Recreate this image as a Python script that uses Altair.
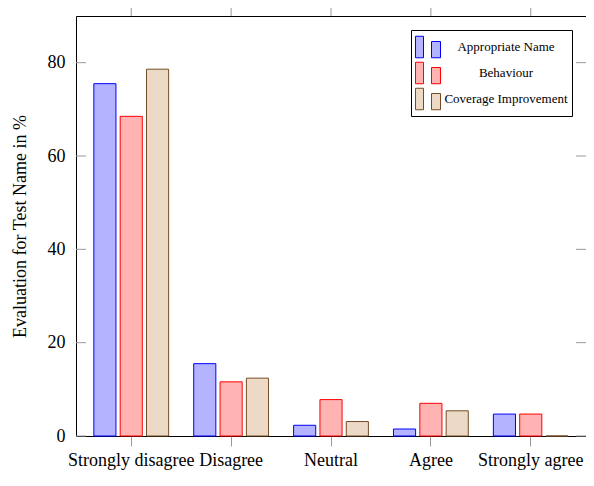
import altair as alt
import pandas as pd

categories = ["Strongly disagree", "Disagree", "Neutral", "Agree", "Strongly agree"]
series = ["Appropriate Name", "Behaviour", "Coverage Improvement"]
appropriate_name = [75.5, 15.5, 2.3, 1.5, 4.7]
behaviour = [68.5, 11.6, 7.8, 7.0, 4.7]
coverage_improvement = [78.6, 12.4, 3.1, 5.4, 0.0]
y_ticks = [0, 20, 40, 60, 80]

fills = ["#b3b3ff", "#ffb3b3", "#ecd9c6"]
strokes = ["#0000ff", "#ff0000", "#734d26"]

rows = []
for s, vals in zip(series, [appropriate_name, behaviour, coverage_improvement]):
    for c, v in zip(categories, vals):
        rows.append({"category": c, "series": s, "value": v})
df = pd.DataFrame(rows)
tick_df = pd.DataFrame({"value": y_ticks})
cat_df = pd.DataFrame({"category": categories})

FONT = "Liberation Serif"
TICK = "#999999"
ICON = "M-1,-0.86H-0.36V0.86H-1Z M0.28,-0.44H1V0.86H0.28Z"
W, H = 510, 420

yscale = alt.Scale(domain=[0, 90], nice=False)
xscale = alt.Scale(domain=categories, paddingInner=0.23, paddingOuter=0.168)

x_axis = alt.Axis(title=None, labelAngle=0, domain=False, ticks=True, tickSize=10,
                  tickColor=TICK, labelPadding=5, labelFontSize=18)
y_axis = alt.Axis(values=y_ticks, title="Evaluation for Test Name in %", ticks=False,
                  domain=False, grid=False, labelPadding=11, titlePadding=18)

legend = alt.Legend(
    title=None, orient="top-right", offset=14, symbolType=ICON, symbolSize=625,
    symbolStrokeWidth=1, symbolOpacity=1, labelFont=FONT, labelFontSize=13,
    labelColor="black", labelAlign="center", labelOffset=65, padding=4,
    rowPadding=0, strokeColor="black", fillColor="white",
)

bars = alt.Chart(df).mark_bar(strokeWidth=1).encode(
    x=alt.X("category:N", sort=categories, scale=xscale, axis=x_axis),
    xOffset=alt.XOffset("series:N", sort=series,
                        scale=alt.Scale(paddingInner=0.16, paddingOuter=0.04)),
    y=alt.Y("value:Q", scale=yscale, axis=y_axis),
    fill=alt.Fill("series:N", sort=series, scale=alt.Scale(domain=series, range=fills), legend=legend),
    stroke=alt.Stroke("series:N", sort=series, scale=alt.Scale(domain=series, range=strokes), legend=legend),
)

left_ticks = alt.Chart(tick_df).mark_rule(color=TICK, strokeWidth=1).encode(
    y=alt.Y("value:Q", scale=yscale, axis=y_axis), x=alt.value(0), x2=alt.value(10))
right_ticks = alt.Chart(tick_df).mark_rule(color=TICK, strokeWidth=1).encode(
    y=alt.Y("value:Q", scale=yscale, axis=y_axis), x=alt.value(W - 10), x2=alt.value(W))
top_ticks = alt.Chart(cat_df).mark_rule(color=TICK, strokeWidth=1).encode(
    x=alt.X("category:N", sort=categories, scale=xscale, axis=x_axis),
    y=alt.value(-8), y2=alt.value(0))

chart = alt.layer(left_ticks, right_ticks, top_ticks, bars).properties(
    width=W, height=H,
    padding={"left": 68, "top": 8, "right": 0, "bottom": 38},
    autosize=alt.AutoSizeParams(type="none"),
).configure_view(stroke="black", strokeWidth=1).configure_axis(
    labelFont=FONT, titleFont=FONT, labelFontSize=18, titleFontSize=18,
    labelColor="black", titleColor="black", titleFontWeight="normal",
)

chart.save("out.html", embed_options={"renderer": "svg", "actions": False})
